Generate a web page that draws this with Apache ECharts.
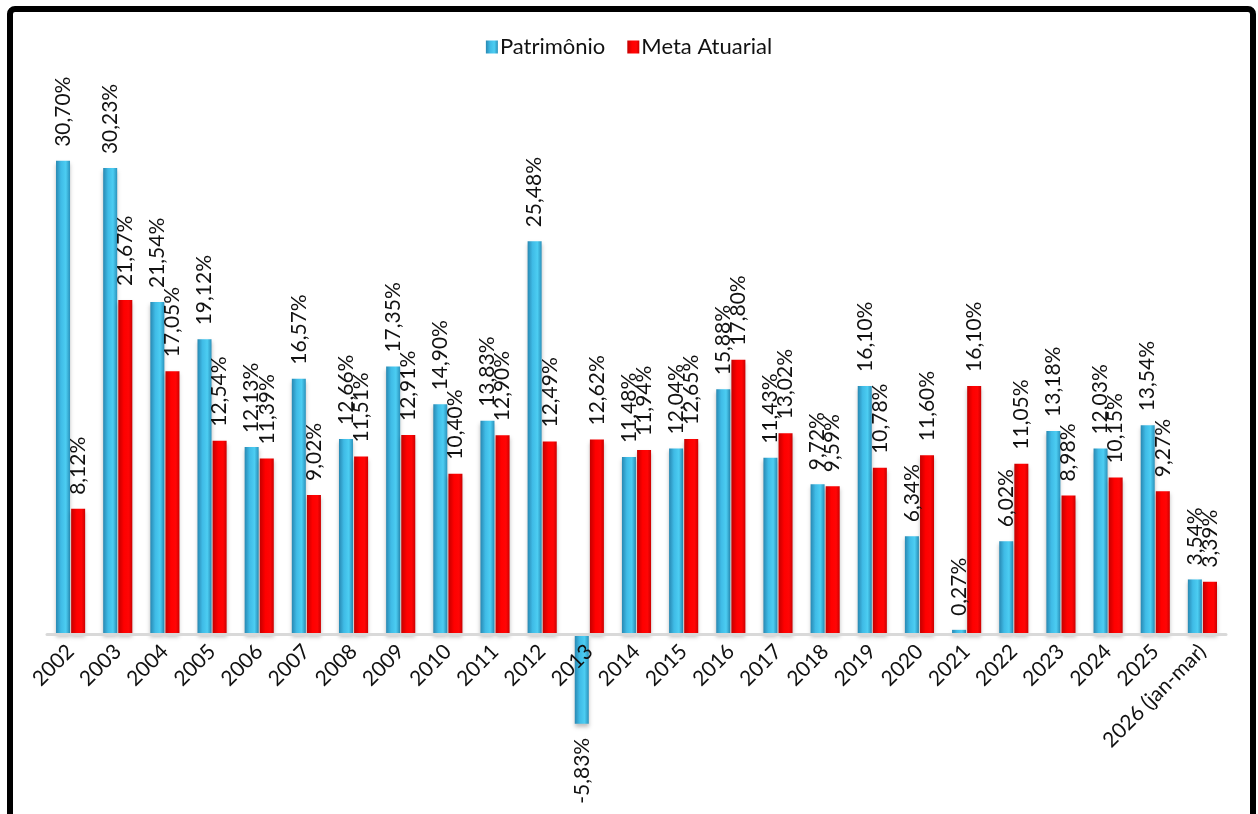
<!DOCTYPE html>
<html>
<head>
<meta charset="utf-8">
<script src="https://cdn.jsdelivr.net/npm/echarts@6/dist/echarts.min.js"></script>
<style>
  html, body { margin:0; padding:0; background:#fff; }
  #main { width:1258px; height:814px; }
</style>
</head>
<body>
<div id="main"></div>
<script>
// anos
var categories = ['2002','2003','2004','2005','2006','2007','2008','2009','2010','2011','2012','2013',
  '2014','2015','2016','2017','2018','2019','2020','2021','2022','2023','2024','2025','2026 (jan-mar)'];
// rentabilidade do patrimonio (%)
var patrimonio = [30.70, 30.23, 21.54, 19.12, 12.13, 16.57, 12.66, 17.35, 14.90, 13.83, 25.48, -5.83,
  11.48, 12.04, 15.88, 11.43, 9.72, 16.10, 6.34, 0.27, 6.02, 13.18, 12.03, 13.54, 3.54];
// meta atuarial (%)
var metaAtuarial = [8.12, 21.67, 17.05, 12.54, 11.39, 9.02, 11.51, 12.91, 10.40, 12.90, 12.49, 12.62,
  11.94, 12.65, 17.80, 13.02, 9.59, 10.78, 11.60, 16.10, 11.05, 8.98, 10.15, 9.27, 3.39];

var FONT = 'Lato';

function fmt(v){
  return v.toFixed(2).replace('.', ',') + '%';
}

var blueFill = new echarts.graphic.LinearGradient(0,0,1,0,[
  {offset:0, color:'#2888b2'},
  {offset:0.35, color:'#3fbbe6'},
  {offset:0.7, color:'#4ccdf2'},
  {offset:1, color:'#2a92bc'}
]);
var redFill = new echarts.graphic.LinearGradient(0,0,1,0,[
  {offset:0, color:'#c40000'},
  {offset:0.4, color:'#ff0000'},
  {offset:0.75, color:'#ff0505'},
  {offset:1, color:'#cc0000'}
]);

function buildData(arr){
  var out = [];
  for(var i=0;i<arr.length;i++){
    var item = {value:arr[i]};
    if(arr[i] < 0){
      // rotulo abaixo da barra negativa
      item.label = {position:'bottom', align:'right', distance:14};
    }
    out.push(item);
  }
  return out;
}

var labelCfg = {
  show:true,
  position:'top',
  rotate:90,
  align:'left',
  verticalAlign:'middle',
  distance:14,
  fontFamily:FONT,
  fontSize:21,
  color:'#111',
  formatter:function(p){ return fmt(p.value); }
};

var chart = echarts.init(document.getElementById('main'));
chart.setOption({
  animation:false,
  backgroundColor:'#fff',
  graphic:[{
    type:'rect',
    shape:{x:10, y:9, width:1243, height:900, r:5},
    style:{fill:'none', stroke:'#000', lineWidth:6},
    z:100
  }],
  legend:{
    top:31,
    left:'center',
    itemWidth:12,
    itemHeight:13,
    itemGap:22,
    icon:'rect',
    textStyle:{fontFamily:FONT, fontSize:22, color:'#111', padding:[0,0,0,-3]},
    data:['Patrimônio','Meta Atuarial']
  },
  // o eixo x fica na linha do zero; a barra negativa sai abaixo (clip:false)
  grid:{left:47, right:32, top:94.6, bottom:180, outerBoundsMode:'none'},
  xAxis:{
    type:'category',
    data:categories,
    z:5,
    axisLine:{lineStyle:{color:'#d9d9d9', width:3}},
    axisTick:{show:false},
    axisLabel:{
      rotate:45,
      margin:14,
      interval:0,
      fontFamily:FONT,
      fontSize:21,
      color:'#111'
    }
  },
  yAxis:{
    type:'value',
    min:0,
    max:35,
    show:false,
    splitLine:{show:false}
  },
  series:[
    {
      name:'Patrimônio',
      type:'bar',
      barWidth:14,
      barGap:'8%',
      clip:false,
      data:buildData(patrimonio),
      itemStyle:{color:blueFill, shadowColor:'rgba(0,0,0,0.25)', shadowBlur:4, shadowOffsetY:3},
      label:labelCfg
    },
    {
      name:'Meta Atuarial',
      type:'bar',
      barWidth:14,
      clip:false,
      data:buildData(metaAtuarial),
      itemStyle:{color:redFill, shadowColor:'rgba(0,0,0,0.25)', shadowBlur:4, shadowOffsetY:3},
      label:labelCfg
    }
  ]
});
</script>
</body>
</html>
